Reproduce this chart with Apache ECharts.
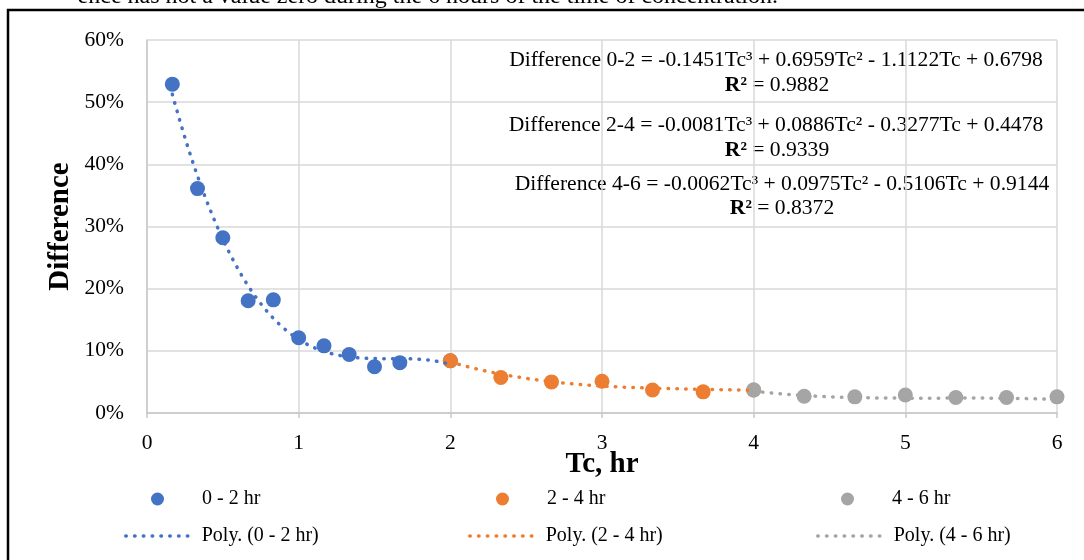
<!DOCTYPE html>
<html>
<head>
<meta charset="utf-8">
<script src="https://cdn.jsdelivr.net/npm/echarts@6/dist/echarts.min.js"></script>
<style>
  html, body { margin: 0; padding: 0; background: #fff; }
  #chart { width: 1084px; height: 560px; }
</style>
</head>
<body>
<div id="chart"></div>
<script>
// Measured differences by time of concentration (Tc, hours)
const tc02   = [0.167, 0.333, 0.5, 0.667, 0.833, 1.0, 1.167, 1.333, 1.5, 1.667, 2.0];
const diff02 = [0.529, 0.361, 0.282, 0.1805, 0.182, 0.121, 0.108, 0.094, 0.0745, 0.081, 0.084];

const tc24   = [2.0, 2.333, 2.667, 3.0, 3.333, 3.667, 4.0];
const diff24 = [0.084, 0.057, 0.050, 0.051, 0.037, 0.034, 0.037];

const tc46   = [4.0, 4.333, 4.667, 5.0, 5.333, 5.667, 6.0];
const diff46 = [0.037, 0.027, 0.026, 0.029, 0.025, 0.025, 0.026];

// Cubic trendline coefficients [a3, a2, a1, a0] as printed on the chart
const coef02 = [-0.1451, 0.6959, -1.1122, 0.6798];
const coef24 = [-0.0081, 0.0886, -0.3277, 0.4478];
const coef46 = [-0.0062, 0.0975, -0.5106, 0.9144];
const r2Values = ['0.9882', '0.9339', '0.8372'];

const yTickLabels = ['0%', '10%', '20%', '30%', '40%', '50%', '60%'];
const xTickLabels = ['0', '1', '2', '3', '4', '5', '6'];

const seriesNames = ['0 - 2 hr', '2 - 4 hr', '4 - 6 hr'];
const trendNames  = ['Poly. (0 - 2 hr)', 'Poly. (2 - 4 hr)', 'Poly. (4 - 6 hr)'];
const colors = ['#4472C4', '#ED7D31', '#A5A5A5'];

const SERIF = "'Liberation Serif', 'Times New Roman', serif";

function pairs(xs, ys) { return xs.map((x, i) => [x, ys[i]]); }

// Evaluate a printed cubic trendline over the span of its own data
function trendPoints(coef, xs) {
  const x0 = xs[0], x1 = xs[xs.length - 1], n = 80, out = [];
  for (let i = 0; i <= n; i++) {
    const x = x0 + (x1 - x0) * i / n;
    out.push([x, ((coef[0] * x + coef[1]) * x + coef[2]) * x + coef[3]]);
  }
  return out;
}

function equationText(range, c) {
  const f = v => Math.abs(v).toFixed(4);
  const s = v => (v < 0 ? ' - ' : ' + ');
  return 'Difference ' + range + ' = ' + (c[0] < 0 ? '-' : '') + f(c[0]) + 'Tc³' +
    s(c[1]) + f(c[1]) + 'Tc²' + s(c[2]) + f(c[2]) + 'Tc' + s(c[3]) + f(c[3]);
}

const dotted = [0.5, 8.3];

const scatterSeries = [[tc02, diff02], [tc24, diff24], [tc46, diff46]].map((d, i) => ({
  name: seriesNames[i],
  type: 'scatter',
  data: pairs(d[0], d[1]),
  symbol: 'circle',
  symbolSize: 15,
  itemStyle: { color: colors[i], opacity: 1 },
  z: 2 + i
}));

const trendSeries = [[coef02, tc02], [coef24, tc24], [coef46, tc46]].map((d, i) => ({
  name: trendNames[i],
  type: 'line',
  data: trendPoints(d[0], d[1]),
  symbol: 'none',
  showSymbol: false,
  smooth: false,
  lineStyle: { color: colors[i], width: 3.5, type: dotted, cap: 'round' },
  itemStyle: { color: colors[i] },
  z: 6 + i
}));

const legendText = { fontFamily: SERIF, fontSize: 20, color: '#000', padding: [0, 0, 0, 8] };
const markerLegendLeft = [146, 491, 836];
const lineLegendLeft = [119, 463, 811];
const legends = [];
seriesNames.forEach((n, i) => legends.push({
  data: [n], left: markerLegendLeft[i], top: 484, itemWidth: 63, itemHeight: 13,
  textStyle: legendText
}));
trendNames.forEach((n, i) => legends.push({
  data: [n], left: lineLegendLeft[i], top: 521, itemWidth: 63, itemHeight: 13,
  itemStyle: { opacity: 0 },
  lineStyle: { width: 3.5, type: dotted, cap: 'round', opacity: 1 },
  textStyle: legendText
}));

const eqPos = [[776, 60, 777, 85], [776, 125, 777, 150], [782, 184, 782, 208]];
const eqTexts = [equationText('0-2', coef02), equationText('2-4', coef24), equationText('4-6', coef46)];
const graphics = [];
eqTexts.forEach((t, i) => {
  graphics.push({
    type: 'text', x: eqPos[i][0], y: eqPos[i][1], silent: true,
    style: { text: t, fontFamily: SERIF, fontSize: 21.6, fill: '#000', align: 'center', verticalAlign: 'middle' }
  });
  graphics.push({
    type: 'text', x: eqPos[i][2], y: eqPos[i][3], silent: true,
    style: {
      text: '{b|R²} = ' + r2Values[i], fontFamily: SERIF, fontSize: 21.6, fill: '#000',
      align: 'center', verticalAlign: 'middle',
      rich: { b: { fontFamily: SERIF, fontSize: 21.6, fontWeight: 'bold', fill: '#000' } }
    }
  });
});
// Caption line above the frame and the frame itself
graphics.push({
  type: 'text', x: 778, y: 8.5, silent: true,
  style: { text: 'ence has not a value zero during the 6 hours of the time of concentration.',
           fontFamily: SERIF, fontSize: 24, fill: '#000', align: 'right', verticalAlign: 'bottom' }
});
graphics.push({
  type: 'rect', silent: true,
  shape: { x: 8, y: 10, width: 1200, height: 700 },
  style: { fill: 'none', stroke: '#000', lineWidth: 2.5 }
});

const chart = echarts.init(document.getElementById('chart'), null, { renderer: 'canvas' });
chart.setOption({
  animation: false,
  backgroundColor: '#fff',
  grid: { left: 147, right: 27, top: 40, bottom: 147, containLabel: false },
  xAxis: {
    type: 'value', min: 0, max: 6, interval: 1,
    name: 'Tc, hr', nameLocation: 'middle', nameGap: 37, nameMoveOverlap: false,
    nameTextStyle: { fontFamily: SERIF, fontSize: 29, fontWeight: 'bold', color: '#000' },
    axisLine: { show: true, lineStyle: { color: '#c8c8c8', width: 1.5 } },
    axisTick: { show: true, length: 5, lineStyle: { color: '#c8c8c8', width: 1.5 } },
    axisLabel: { margin: 19, fontFamily: SERIF, fontSize: 21.5, color: '#000',
                 formatter: v => xTickLabels[Math.round(v)] },
    splitLine: { show: true, lineStyle: { color: '#d9d9d9', width: 1.5 } }
  },
  yAxis: {
    type: 'value', min: 0, max: 0.6, interval: 0.1,
    name: 'Difference', nameLocation: 'middle', nameGap: 72, nameRotate: 90, nameMoveOverlap: false,
    nameTextStyle: { fontFamily: SERIF, fontSize: 29, fontWeight: 'bold', color: '#000' },
    axisLine: { show: true, lineStyle: { color: '#c8c8c8', width: 1.5 } },
    axisTick: { show: false },
    axisLabel: { margin: 23, fontFamily: SERIF, fontSize: 21.5, color: '#000',
                 formatter: v => yTickLabels[Math.round(v * 10)] },
    splitLine: { show: true, lineStyle: { color: '#d9d9d9', width: 1.5 } }
  },
  legend: legends,
  graphic: graphics,
  series: scatterSeries.concat(trendSeries)
});
</script>
</body>
</html>
